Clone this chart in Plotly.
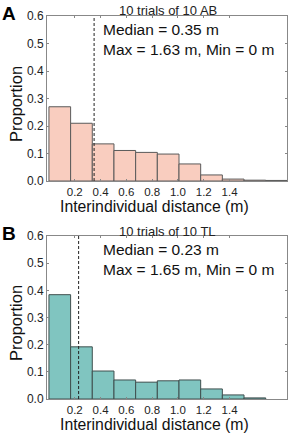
import plotly.graph_objects as go

# Data
bin_width = 0.168
a_props = [0.270, 0.210, 0.135, 0.111, 0.104, 0.098, 0.062, 0.022, 0.007, 0.003, 0.002]
b_props = [0.384, 0.192, 0.103, 0.070, 0.062, 0.067, 0.070, 0.037, 0.015, 0.004]
a_median = 0.35
b_median = 0.23
a_title = "10 trials of 10 AB"
b_title = "10 trials of 10 TL"
a_stats = ["Median = 0.35 m", "Max = 1.63 m, Min = 0 m"]
b_stats = ["Median = 0.23 m", "Max = 1.65 m, Min = 0 m"]
x_ticks = [0.2, 0.4, 0.6, 0.8, 1.0, 1.2, 1.4]
y_ticks = [0.0, 0.1, 0.2, 0.3, 0.4, 0.5, 0.6]
x_label = "Interindividual distance (m)"
y_label = "Proportion"

W, H = 291, 434
FONT = "Liberation Sans, Arial, sans-serif"

def centers(n):
    return [bin_width * (i + 0.5) for i in range(n)]

def px(v):
    return v / W

def py(v):
    return 1 - v / H

fig = go.Figure()
fig.add_trace(go.Bar(x=centers(len(a_props)), y=a_props, width=bin_width,
                     marker=dict(color="#f9cdbf", line=dict(color="#5a5a5a", width=1)),
                     xaxis="x", yaxis="y", showlegend=False, hoverinfo="skip"))
fig.add_trace(go.Bar(x=centers(len(b_props)), y=b_props, width=bin_width,
                     marker=dict(color="#80c5c0", line=dict(color="#3f4f4e", width=1)),
                     xaxis="x2", yaxis="y2", showlegend=False, hoverinfo="skip"))

xdom = [px(47), px(287)]
ydomA = [py(181), py(16)]
ydomB = [py(399), py(236)]

xcommon = dict(range=[-0.015, 1.845], tickvals=x_ticks,
               ticktext=[f"{v:.1f}" for v in x_ticks], automargin=False,
               showgrid=False, zeroline=False, showline=True, linecolor="#888",
               linewidth=1, mirror="ticks", ticks="inside", ticklen=2, tickcolor="#888",
               tickfont=dict(size=11.5, color="#222", family=FONT))
ycommon = dict(range=[0, 0.6], tickvals=y_ticks,
               ticktext=[f"{v:.1f}" for v in y_ticks], automargin=False,
               showgrid=False, zeroline=False, showline=True, linecolor="#888",
               linewidth=1, mirror="ticks", ticks="inside", ticklen=2, tickcolor="#888",
               tickfont=dict(size=12, color="#222", family=FONT))

fig.update_layout(
    width=W, height=H,
    margin=dict(l=0, r=0, t=0, b=0, autoexpand=False),
    paper_bgcolor="white", plot_bgcolor="white",
    bargap=0,
    xaxis=dict(domain=xdom, anchor="y", **xcommon),
    yaxis=dict(domain=ydomA, anchor="x", **ycommon),
    xaxis2=dict(domain=xdom, anchor="y2", **xcommon),
    yaxis2=dict(domain=ydomB, anchor="x2", **ycommon),
)

shapes = []
annotations = []
specs = [
    ("x", "y", a_median, a_title, a_stats, "A", 16, 181, 25),
    ("x2", "y2", b_median, b_title, b_stats, "B", 236, 399, 25.3),
]
for xr, yr, med, title, stats, letter, top, bot, tgap in specs:
    shapes.append(dict(type="line", xref=xr, yref=yr, x0=med, x1=med, y0=0, y1=0.6,
                       line=dict(color="#222", width=1, dash="3px,2px")))
    annotations.append(dict(text=title, xref="paper", yref="paper",
                            x=px(167.5), y=py(top - 5), yanchor="middle",
                            showarrow=False, font=dict(size=13, color="#222", family=FONT)))
    annotations.append(dict(text=stats[0], xref="paper", yref="paper",
                            x=px(101), y=py(top + 13.5), xanchor="left", yanchor="middle",
                            showarrow=False, font=dict(size=15.5, color="#111", family=FONT)))
    annotations.append(dict(text=stats[1], xref="paper", yref="paper",
                            x=px(101), y=py(top + 33.5), xanchor="left", yanchor="middle",
                            showarrow=False, font=dict(size=15.5, color="#111", family=FONT)))
    annotations.append(dict(text="<b>" + letter + "</b>", xref="paper", yref="paper",
                            x=px(0), y=py(top - 2.5), xanchor="left", yanchor="middle",
                            showarrow=False, font=dict(size=19, color="#000", family=FONT)))
    annotations.append(dict(text=y_label, xref="paper", yref="paper", textangle=-90,
                            x=px(15.5), y=py((top + bot) / 2 + 6), xanchor="center", yanchor="middle",
                            showarrow=False, font=dict(size=16.5, color="#111", family=FONT)))
    annotations.append(dict(text=x_label, xref="paper", yref="paper",
                            x=px(154), y=py(bot + tgap), xanchor="center", yanchor="middle",
                            showarrow=False, font=dict(size=15.8, color="#111", family=FONT)))

fig.update_layout(shapes=shapes, annotations=annotations)
fig.write_html("out.html", config={"displayModeBar": False, "staticPlot": True},
               post_script="document.body.style.margin='0px';document.body.style.overflow='hidden';")
